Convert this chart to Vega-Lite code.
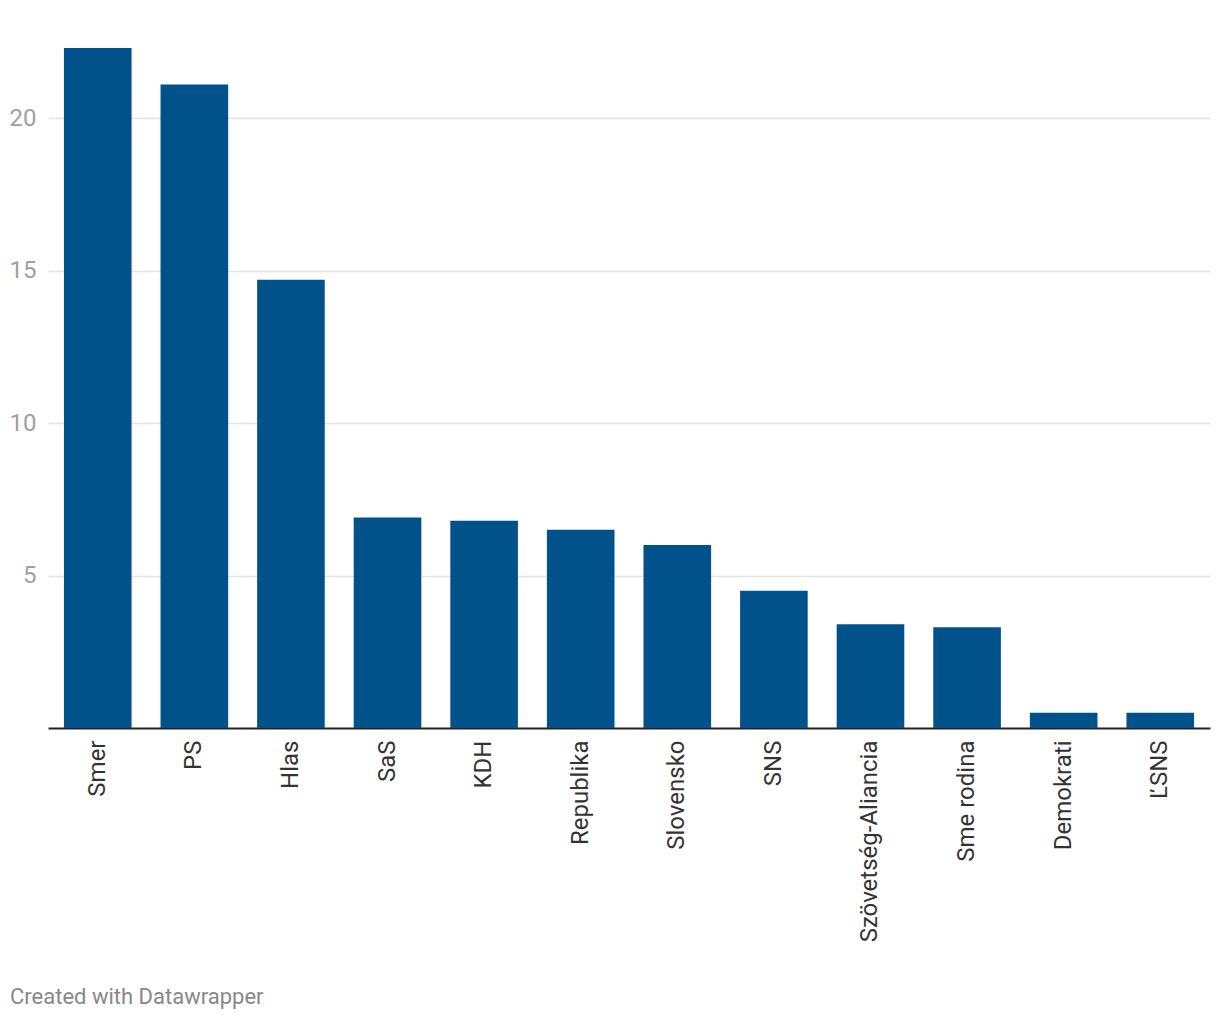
{
  "$schema": "https://vega.github.io/schema/vega-lite/v6.json",
  "width": 1162,
  "height": 680,
  "autosize": {"type": "none"},
  "padding": {"left": 48, "top": 48, "right": 10, "bottom": 292},
  "background": "white",
  "config": {
    "font": "Roboto",
    "view": {"stroke": null}
  },
  "title": {
    "text": "Created with Datawrapper",
    "orient": "bottom",
    "anchor": "start",
    "frame": "group",
    "dx": -38,
    "offset": 45,
    "fontSize": 22,
    "fontWeight": "normal",
    "color": "#888888",
    "font": "Roboto"
  },
  "data": {
    "values": [
      {"party": "Smer", "value": 22.3},
      {"party": "PS", "value": 21.1},
      {"party": "Hlas", "value": 14.7},
      {"party": "SaS", "value": 6.9},
      {"party": "KDH", "value": 6.8},
      {"party": "Republika", "value": 6.5},
      {"party": "Slovensko", "value": 6.0},
      {"party": "SNS", "value": 4.5},
      {"party": "Szövetség-Aliancia", "value": 3.4},
      {"party": "Sme rodina", "value": 3.3},
      {"party": "Demokrati", "value": 0.5},
      {"party": "ĽSNS", "value": 0.5}
    ]
  },
  "mark": {"type": "bar", "color": "#01528a"},
  "encoding": {
    "x": {
      "field": "party",
      "type": "nominal",
      "sort": null,
      "scale": {"paddingInner": 0.3, "paddingOuter": 0.165},
      "axis": {
        "title": null,
        "labelAngle": -90,
        "labelFontSize": 24,
        "labelColor": "#333333",
        "labelPadding": 12,
        "labelLimit": 400,
        "ticks": false,
        "domainColor": "#222222",
        "domainWidth": 2,
        "grid": false
      }
    },
    "y": {
      "field": "value",
      "type": "quantitative",
      "scale": {"domain": [0, 22.3], "nice": false},
      "axis": {
        "title": null,
        "values": [5, 10, 15, 20],
        "labelFontSize": 24,
        "labelColor": "#a0a0a0",
        "labelPadding": 12,
        "ticks": false,
        "domain": false,
        "grid": true,
        "gridColor": "#e3e3e3",
        "gridWidth": 1.5
      }
    }
  }
}
